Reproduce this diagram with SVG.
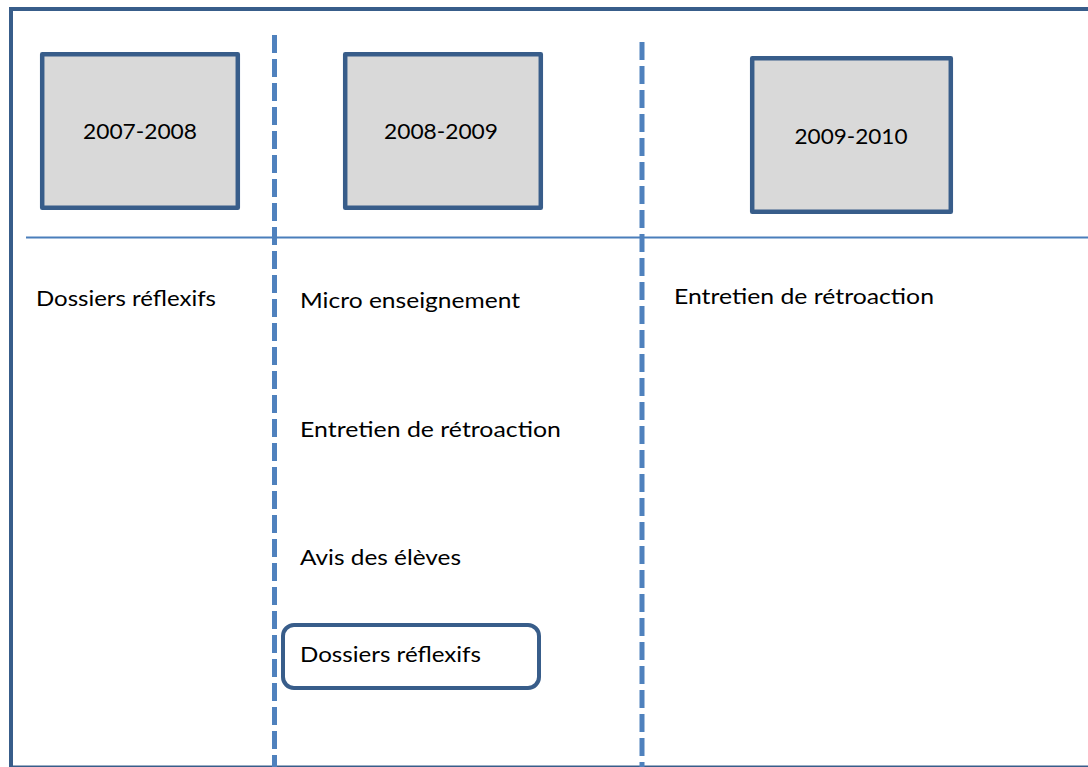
<svg xmlns="http://www.w3.org/2000/svg" width="1088" height="767" viewBox="0 0 1088 767">
<style>
.year{fill:#d9d9d9;stroke:#385d8a;stroke-width:4.5;stroke-linejoin:round}
.t{font-family:"Lato","Open Sans","Liberation Sans",sans-serif;font-size:22px;fill:#000}
.dash{stroke:#4f81bd;stroke-width:5;stroke-dasharray:18 6;fill:none}
</style>
<rect width="1088" height="767" fill="#ffffff"/>
<g id="frame">
<rect x="11" y="9" width="1100" height="758.5" fill="none" stroke="#385d8a" stroke-width="4"/>
<line x1="26" y1="237.5" x2="1088" y2="237.5" stroke="#4a7ebb" stroke-width="2"/>
</g>
<g id="connectors">
<line class="dash" x1="274.5" y1="35" x2="274.5" y2="767"/>
<line class="dash" x1="642" y1="42" x2="642" y2="767"/>
</g>
<g id="year1">
<rect class="year" x="42.2" y="54.2" width="195.6" height="153.6"/>
<text class="t" x="140" y="139" text-anchor="middle" textLength="114" lengthAdjust="spacingAndGlyphs">2007-2008</text>
</g>
<g id="year2">
<rect class="year" x="345.2" y="54.2" width="195.6" height="153.6"/>
<text class="t" x="441" y="139" text-anchor="middle" textLength="114" lengthAdjust="spacingAndGlyphs">2008-2009</text>
</g>
<g id="year3">
<rect class="year" x="752.2" y="58.2" width="198.6" height="153.6"/>
<text class="t" x="851" y="144" text-anchor="middle" textLength="113" lengthAdjust="spacingAndGlyphs">2009-2010</text>
</g>
<g id="col1-dossiers">
<text class="t" x="36" y="305.5" textLength="180" lengthAdjust="spacingAndGlyphs">Dossiers réflexifs</text>
</g>
<g id="col2-micro">
<text class="t" x="300" y="308" textLength="220" lengthAdjust="spacingAndGlyphs">Micro enseignement</text>
</g>
<g id="col2-entretien">
<text class="t" x="300" y="436.5" textLength="261" lengthAdjust="spacingAndGlyphs">Entretien de rétroaction</text>
</g>
<g id="col2-avis">
<text class="t" x="300" y="565" textLength="161" lengthAdjust="spacingAndGlyphs">Avis des élèves</text>
</g>
<g id="col2-dossiers">
<rect x="283" y="625" width="256" height="63" rx="11" ry="11" fill="#ffffff" stroke="#385d8a" stroke-width="4"/>
<text class="t" x="300" y="661.5" textLength="181" lengthAdjust="spacingAndGlyphs">Dossiers réflexifs</text>
</g>
<g id="col3-entretien">
<text class="t" x="674" y="303.5" textLength="260" lengthAdjust="spacingAndGlyphs">Entretien de rétroaction</text>
</g>
</svg>
